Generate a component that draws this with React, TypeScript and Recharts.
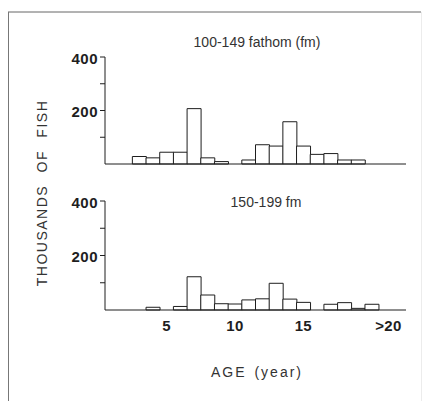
import React from 'react';
import { BarChart, Bar, XAxis, YAxis } from 'recharts';

const ages = [1, 2, 3, 4, 5, 6, 7, 8, 9, 10, 11, 12, 13, 14, 15, 16, 17, 18, 19, 20, 21, 22];
const fish100to149 = [null, null, 28, 23, 44, 44, 207, 23, 9, null, 15, 72, 67, 158, 67, 36, 39, 15, 15, null, null, null];
const fish150to199 = [null, null, null, 10, null, 13, 122, 55, 23, 22, 37, 41, 98, 40, 28, null, 21, 27, 6, 21, null, null];
const xTickLabels: Record<number, string> = { 5: '5', 10: '10', 15: '15', 21: '>20' };
const yTicks = [100, 200, 300, 400];
const yLabelled = [200, 400];

const topData = ages.map((age, i) => ({ age, value: fish100to149[i] }));
const bottomData = ages.map((age, i) => ({ age, value: fish150to199[i] }));

const INK = '#1e1e1e';
const FONT = '"Liberation Sans", Arial, Helvetica, sans-serif';

const XTick = (props: any) => {
  const { x, y, payload } = props;
  const v = payload.value as number;
  const label = xTickLabels[v];
  if (!label) return null;
  return (
    <text x={x + (v === 21 ? 3 : 0)} y={y + 21} textAnchor="middle" fontFamily={FONT} fontWeight="bold" fontSize={15} letterSpacing={0.4} fill={INK}>
      {label}
    </text>
  );
};

const YTick = (props: any) => {
  const { x, y, payload } = props;
  const v = payload.value as number;
  if (!yLabelled.includes(v)) return null;
  return (
    <text x={x} y={y + 6.5} textAnchor="end" fontFamily={FONT} fontWeight="bold" fontSize={15} letterSpacing={0.5} fill={INK}>
      {String(v)}
    </text>
  );
};

const yAxisProps = {
  type: 'number' as const,
  domain: [0, 400] as [number, number],
  ticks: yTicks,
  width: 50,
  tickSize: 5,
  tickMargin: 2,
  interval: 0 as const,
  axisLine: { stroke: INK, strokeWidth: 1 },
  tickLine: { stroke: INK, strokeWidth: 1 },
  tick: <YTick />,
};

export default function App() {
  return (
    <div style={{ position: 'absolute', left: 0, top: 0, width: 423, height: 401, background: '#fff' }}>
      <svg width={423} height={401} style={{ position: 'absolute', left: 0, top: 0 }}>
        <line x1={8} y1={12} x2={421} y2={12} stroke="#666" strokeWidth={1} />
        <line x1={8.5} y1={12} x2={8.5} y2={401} stroke="#777" strokeWidth={1} />
        <line x1={421.5} y1={12} x2={421.5} y2={401} stroke="#ececec" strokeWidth={1} />
        <text x={257} y={47} textAnchor="middle" fontFamily={FONT} fontSize={14} fill="#333">
          100-149 fathom (fm)
        </text>
        <text x={266} y={207} textAnchor="middle" fontFamily={FONT} fontSize={14} fill="#333">
          150-199 fm
        </text>
        <text
          x={0}
          y={0}
          transform="translate(47,193) rotate(-90)"
          textAnchor="middle"
          fontFamily={FONT}
          fontSize={14}
          letterSpacing={1.5}
          wordSpacing={7}
          fill="#333"
        >
          THOUSANDS OF FISH
        </text>
        <text x={257} y={377} textAnchor="middle" fontFamily={FONT} fontSize={14} letterSpacing={2} wordSpacing={2} fill="#333">
          AGE (year)
        </text>
      </svg>
      <div style={{ position: 'absolute', left: 0, top: 0 }}>
        <BarChart width={423} height={170} data={topData} margin={{ top: 57, right: 17, left: 55, bottom: 5 }} barCategoryGap={0}>
          <XAxis dataKey="age" type="category" height={1} tick={false} tickLine={false} axisLine={{ stroke: INK, strokeWidth: 1 }} />
          <YAxis {...yAxisProps} />
          <Bar dataKey="value" fill="#fff" stroke={INK} strokeWidth={1} isAnimationActive={false} />
        </BarChart>
      </div>
      <div style={{ position: 'absolute', left: 0, top: 170 }}>
        <BarChart width={423} height={180} data={bottomData} margin={{ top: 31, right: 17, left: 55, bottom: 10 }} barCategoryGap={0}>
          <XAxis
            dataKey="age"
            type="category"
            height={30}
            interval={0}
            tickSize={0}
            tickMargin={0}
            tickLine={false}
            tick={<XTick />}
            axisLine={{ stroke: INK, strokeWidth: 1 }}
          />
          <YAxis {...yAxisProps} />
          <Bar dataKey="value" fill="#fff" stroke={INK} strokeWidth={1} isAnimationActive={false} />
        </BarChart>
      </div>
    </div>
  );
}
